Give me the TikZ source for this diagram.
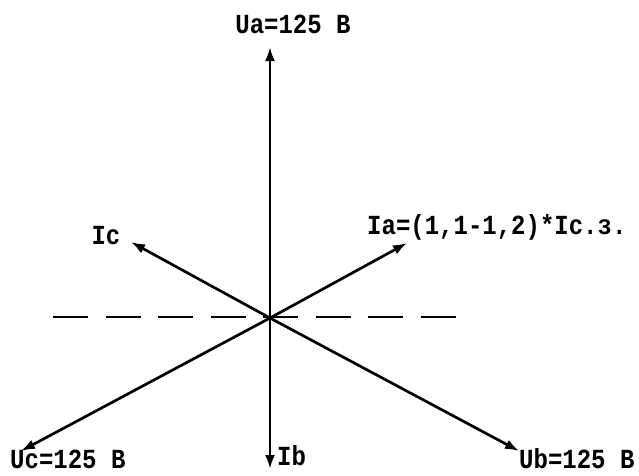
\documentclass[tikz,border=0pt]{standalone}
\usepackage{fontspec}
\setmonofont{Liberation Mono}
\usetikzlibrary{arrows.meta}
\begin{document}
\begin{tikzpicture}[x=1pt,y=-1pt,
  vec/.style={line width=2.7pt,-{Latex[length=14pt,width=10pt]}},
  axisline/.style={line width=2.8pt,dash pattern=on 35pt off 17.5pt},
  lbl/.style={font=\ttfamily\bfseries\fontsize{24}{24}\selectfont,inner sep=0pt,yscale=1.15}]
\useasboundingbox (0,0) rectangle (639,475);
\coordinate (O) at (270,318);
\coordinate (Ua) at (270,47);
\coordinate (Ub) at (519,451);
\coordinate (Uc) at (21,451);
\coordinate (Ia) at (407,243);
\coordinate (Ic) at (131,242);
\coordinate (Ib) at (270,469);
\coordinate (dl) at (53,317);
\coordinate (dr) at (456,317);
\draw[axisline] (dl) -- (dr);
\draw[vec] (O) -- (Ua);
\draw[vec] (O) -- (Ub);
\draw[vec] (O) -- (Uc);
\draw[vec] (O) -- (Ia);
\draw[vec] (O) -- (Ic);
\draw[vec] (O) -- (Ib);
\node[lbl] (tUa) at (293,24) {Ua=125 В};
\node[lbl,anchor=west] (tIa) at (367,227) {Ia=(1,1-1,2)*Ic.з.};
\node[lbl] (tIc) at (106,236) {Ic};
\node[lbl,anchor=west] (tIb) at (277,456) {Ib};
\node[lbl,anchor=west] (tUc) at (10,459) {Uc=125 В};
\node[lbl,anchor=west] (tUb) at (519,459) {Ub=125 В};
\end{tikzpicture}
\end{document}
